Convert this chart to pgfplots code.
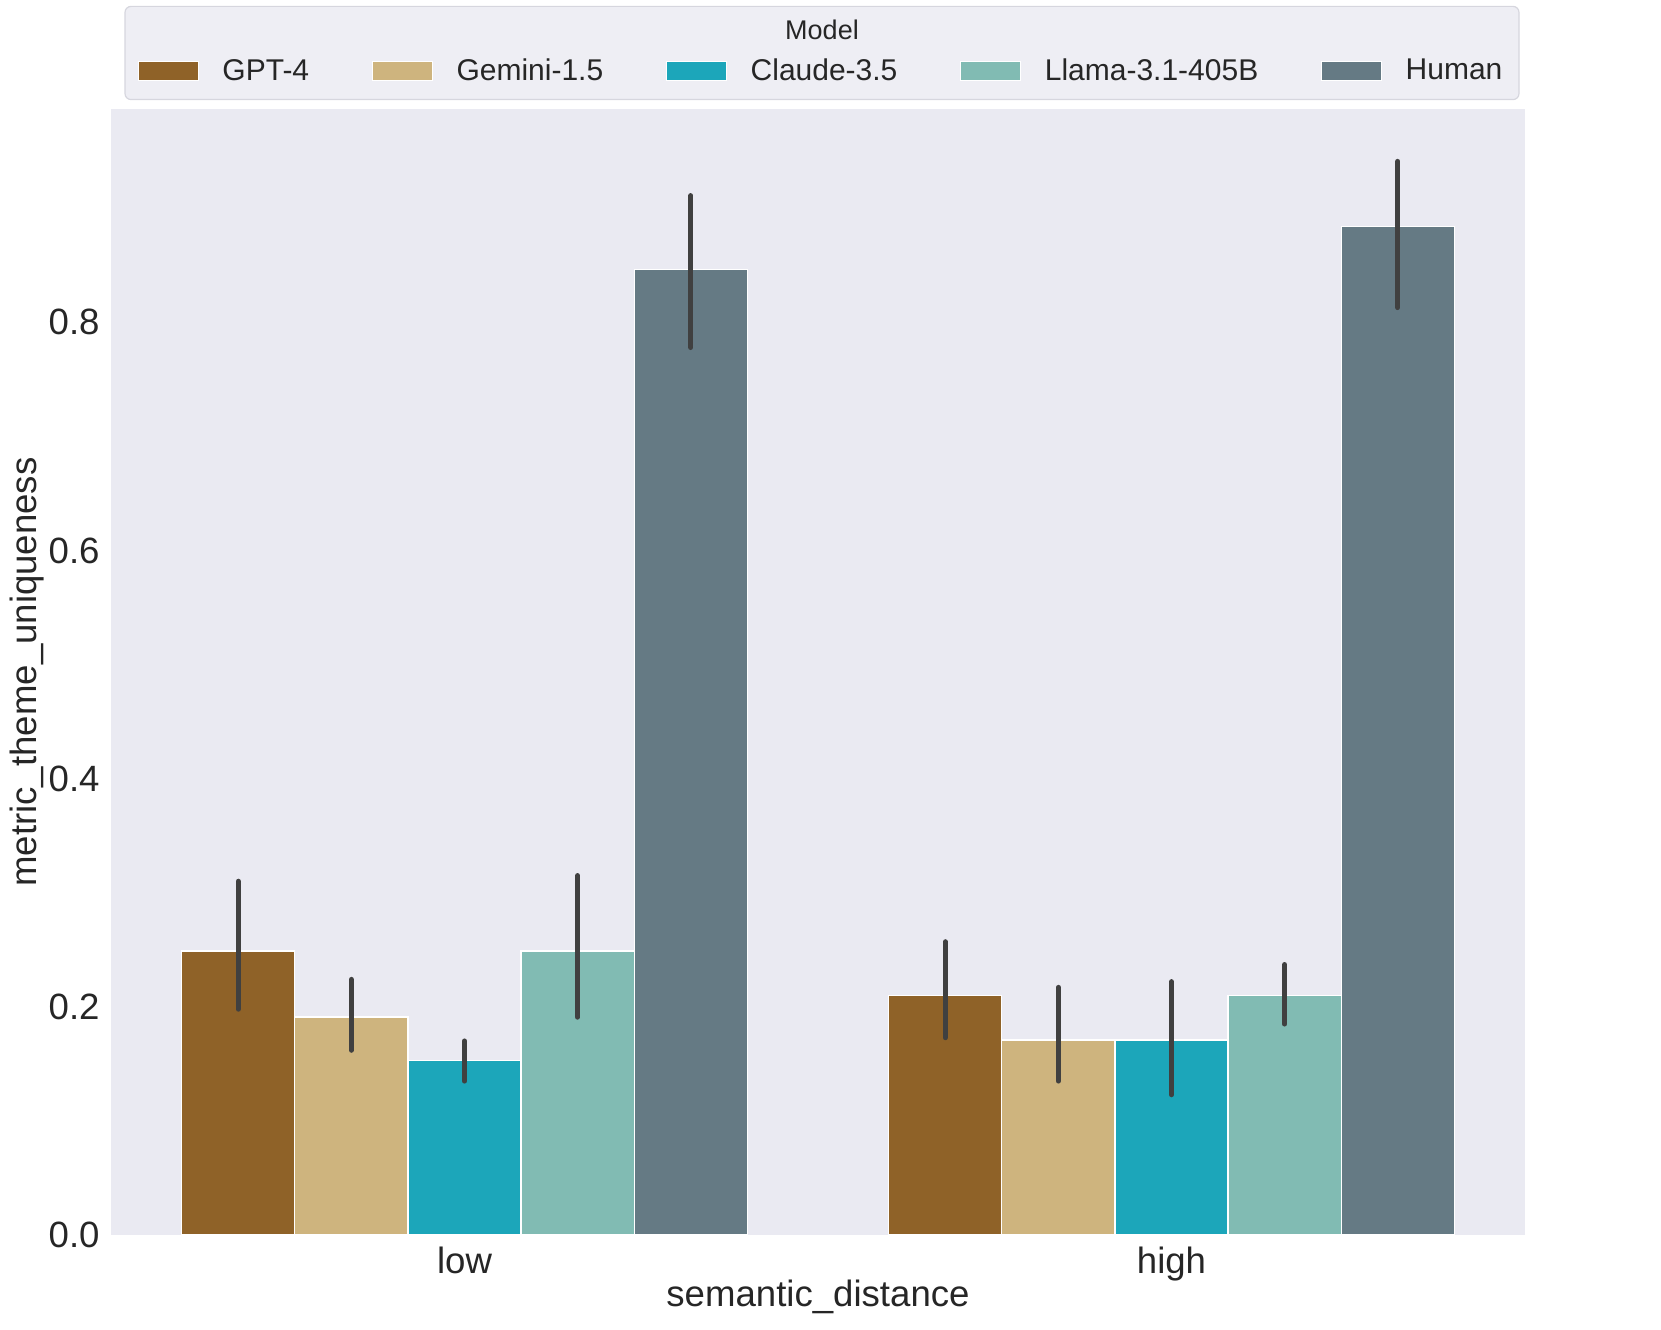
\documentclass[border=0pt]{standalone}
\usepackage{fontspec}
\setmainfont{Liberation Sans}
\usepackage{pgfplots}
\pgfplotsset{compat=1.18}

\definecolor{cgpt}{HTML}{8F6228}
\definecolor{cgem}{HTML}{CEB47E}
\definecolor{ccla}{HTML}{1CA6BA}
\definecolor{clla}{HTML}{81BBB3}
\definecolor{chum}{HTML}{657A84}
\definecolor{bgc}{HTML}{EAEAF2}
\definecolor{legbg}{HTML}{EEEEF4}
\definecolor{legedge}{HTML}{D6D6DE}
\definecolor{errc}{HTML}{404040}
\definecolor{txt}{HTML}{262626}

% bars are placed at their own x (group centre +- 0.16 steps), so no bar shift
\pgfplotsset{
  mybar/.style={ybar, bar width=0.16, bar shift=0pt, draw=white, line width=0.6pt,
    legend image code/.code={\fill[##1, draw=white, line width=0.4pt] (0pt,-4.75pt) rectangle (30pt,4.75pt); \path (39.7pt,0pt);},
    error bars/y dir=both, error bars/y explicit, error bars/error mark=none,
    error bars/error bar style={line width=2.6pt, color=errc, line cap=round}},
}

\begin{document}
\begin{tikzpicture}
\path[use as bounding box] (0,0) rectangle (830.5pt,664.5pt);
% legend frame and title
\draw[rounded corners=3pt, fill=legbg, draw=legedge, line width=0.6pt]
  (62.5pt,614.7pt) rectangle (759.5pt,661.3pt);
\node[font=\fontsize{13.5}{16}\selectfont, text=txt] at (411pt,649.7pt) {Model};

\begin{axis}[
  at={(55.5pt,47pt)}, anchor=south west,
  scale only axis, width=707pt, height=563pt,
  xmin=-0.5, xmax=1.5, ymin=0, ymax=0.987,
  xtick={0,1}, xticklabels={low,high},
  ytick={0,0.2,0.4,0.6,0.8},
  tick label style={font=\fontsize{18.3}{22}\selectfont, text=txt, inner sep=0pt},
  yticklabel style={xshift=-5.5pt, /pgf/number format/.cd, fixed, fixed zerofill, precision=1, assume math mode=true},
  xticklabel style={yshift=-5.7pt},
  major tick length=0pt,
  axis line style={draw=none},
  axis background/.style={fill=bgc},
  xlabel={semantic\_distance},
  ylabel={metric\_theme\_uniqueness},
  every axis x label/.style={at={(axis description cs:0.5,-0.0551)}, anchor=center,
    font=\fontsize{18.3}{22}\selectfont, text=txt},
  every axis y label/.style={at={(axis description cs:-0.0594,0.5)}, rotate=90, anchor=center,
    font=\fontsize{18.3}{22}\selectfont, text=txt},
  legend columns=5,
  legend style={at={(axis description cs:0.503,1.0337)}, anchor=center,
    draw=none, fill=none, inner sep=0pt,
    font=\fontsize{15}{18}\selectfont, text=txt,
    /tikz/every even column/.append style={column sep=29.5pt}},
]
\addplot[fill=cgpt, mybar] coordinates {
  (-0.32,0.249) += (0,0.061) -= (0,0.051)
  (0.68,0.210) += (0,0.047) -= (0,0.037)
};
\addlegendentry{GPT-4}
\addplot[fill=cgem, mybar] coordinates {
  (-0.16,0.191) += (0,0.033) -= (0,0.029)
  (0.84,0.171) += (0,0.046) -= (0,0.036)
};
\addlegendentry{Gemini-1.5}
\addplot[fill=ccla, mybar] coordinates {
  (0,0.153) += (0,0.017) -= (0,0.018)
  (1,0.171) += (0,0.051) -= (0,0.048)
};
\addlegendentry{Claude-3.5}
\addplot[fill=clla, mybar] coordinates {
  (0.16,0.249) += (0,0.066) -= (0,0.058)
  (1.16,0.210) += (0,0.027) -= (0,0.025)
};
\addlegendentry{Llama-3.1-405B}
\addplot[fill=chum, mybar] coordinates {
  (0.32,0.846) += (0,0.065) -= (0,0.068)
  (1.32,0.884) += (0,0.057) -= (0,0.071)
};
\addlegendentry{Human}
\end{axis}
\end{tikzpicture}
\end{document}
